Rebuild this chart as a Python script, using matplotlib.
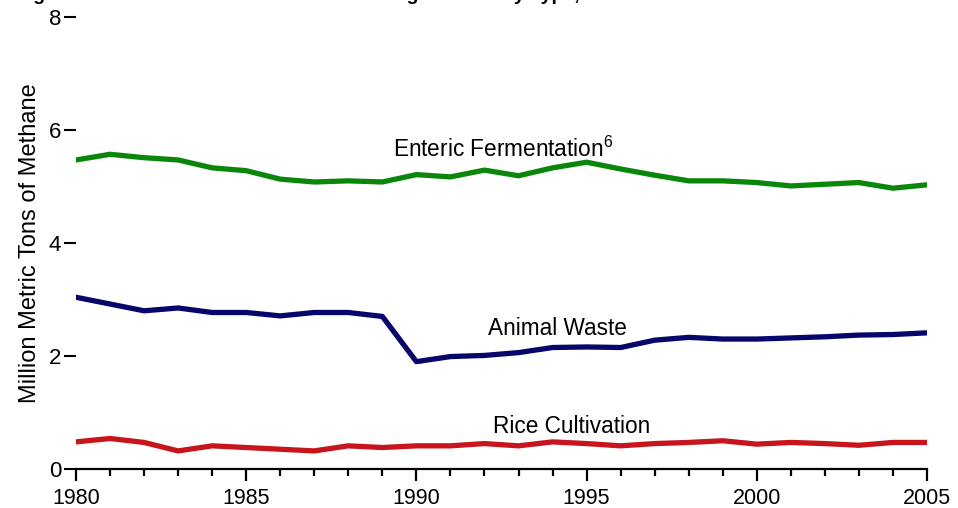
"""農業由来メタン排出量（種類別, 1980-2005）の折れ線図を再現する。"""
import matplotlib
matplotlib.use("Agg")
import matplotlib.pyplot as plt
from matplotlib.ticker import MultipleLocator

plt.rcParams["font.family"] = ["Liberation Sans", "DejaVu Sans"]
plt.rcParams["mathtext.fontset"] = "custom"
plt.rcParams["mathtext.rm"] = "Liberation Sans"

years = list(range(1980, 2006))
enteric = [5.47, 5.57, 5.51, 5.47, 5.33, 5.28, 5.13, 5.08, 5.10, 5.08,
           5.21, 5.17, 5.29, 5.19, 5.33, 5.43, 5.31, 5.20, 5.10, 5.10,
           5.07, 5.01, 5.04, 5.07, 4.97, 5.03]
animal_waste = [3.04, 2.92, 2.80, 2.85, 2.77, 2.77, 2.71, 2.77, 2.77, 2.70,
                1.90, 1.99, 2.01, 2.06, 2.15, 2.16, 2.15, 2.28, 2.33, 2.30,
                2.30, 2.32, 2.34, 2.37, 2.38, 2.41]
rice = [0.48, 0.54, 0.47, 0.32, 0.41, 0.38, 0.35, 0.32, 0.41, 0.38,
        0.41, 0.41, 0.45, 0.41, 0.48, 0.45, 0.41, 0.45, 0.47, 0.50,
        0.44, 0.47, 0.45, 0.42, 0.47, 0.47]
yticks = [0, 2, 4, 6, 8]
xticks = [1980, 1985, 1990, 1995, 2000, 2005]

fig = plt.figure(figsize=(9.58, 5.08), dpi=100)
ax = fig.add_axes([76 / 958, 39 / 508, 851 / 958, 452 / 508])

ax.plot(years, enteric, color="#0a870a", lw=3.8, solid_joinstyle="round")
ax.plot(years, animal_waste, color="#06066b", lw=3.8, solid_joinstyle="round")
ax.plot(years, rice, color="#c8141c", lw=3.8, solid_joinstyle="round")

# 系列ラベル（凡例なし、線の近くに直接書く）
ax.text(1989.3, 5.52, r"Enteric Fermentation$^{\mathrm{6}}$", fontsize=16.3,
        ha="left", va="baseline")
ax.text(1992.1, 2.37, "Animal Waste", fontsize=16.3, ha="left", va="baseline")
ax.text(1992.25, 0.64, "Rice Cultivation", fontsize=16.3, ha="left", va="baseline")

ax.set_xlim(1980, 2005)
ax.set_ylim(0, 8)
ax.set_xticks(xticks)
ax.xaxis.set_minor_locator(MultipleLocator(1))
ax.set_yticks(yticks)
for s in ["top", "right", "left"]:
    ax.spines[s].set_visible(False)
ax.spines["bottom"].set_linewidth(1.6)
ax.tick_params(axis="x", which="major", length=8.3, width=1.6, pad=5.5,
               labelsize=15.5)
ax.tick_params(axis="x", which="minor", length=4.7, width=1.6)
ax.tick_params(axis="y", length=8.6, width=1.5, pad=2, labelsize=16)

ax.set_ylabel("Million Metric Tons of Methane", fontsize=17)
ax.yaxis.set_label_coords(-0.041, 0.5)

# 上端で切れているタイトル（下端のみ見える）
fig.text(16 / 958, 1.0, "Figure 23. U.S. Methane Emissions from Agriculture by Type, 1980-2005",
         fontsize=14, fontweight="bold", ha="left", va="baseline")

fig.savefig("out.png", dpi=100)
